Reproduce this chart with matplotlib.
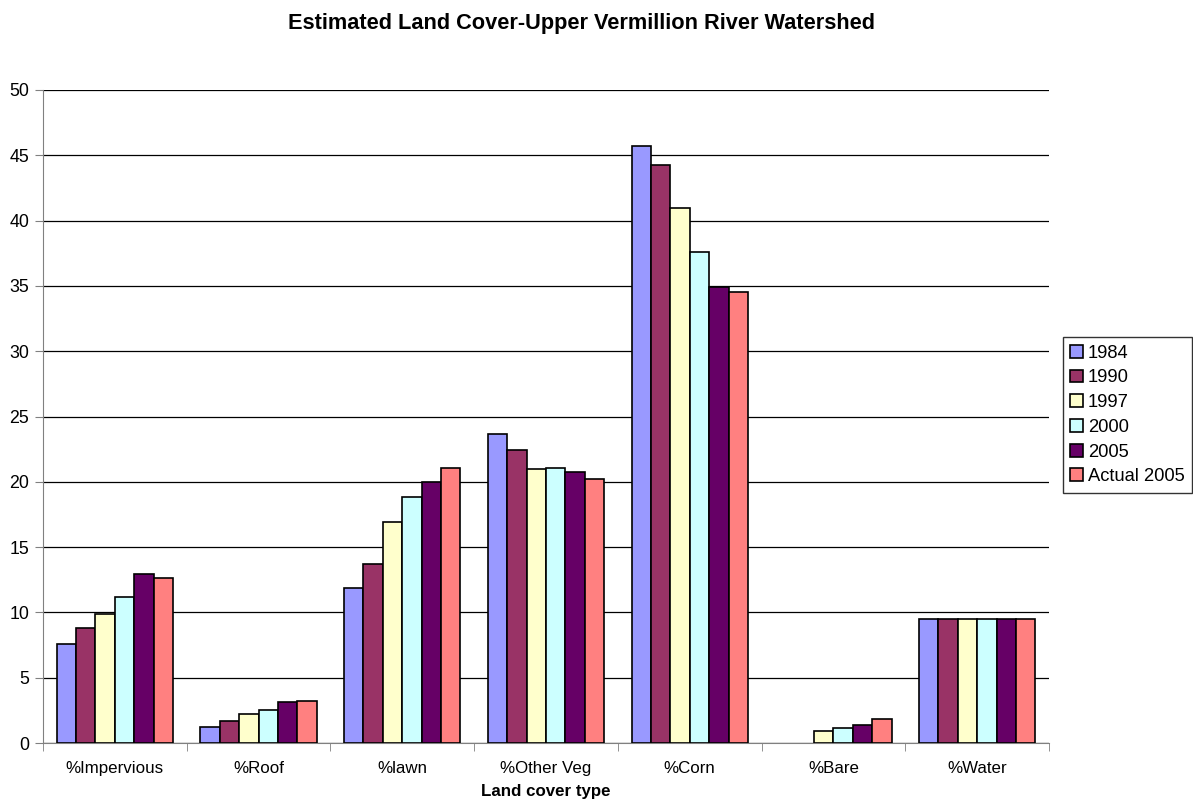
import matplotlib
matplotlib.use("Agg")
import matplotlib.pyplot as plt
import numpy as np

plt.rcParams['font.family'] = ['Liberation Sans', 'DejaVu Sans']

categories = ["%Impervious", "%Roof", "%lawn", "%Other Veg", "%Corn", "%Bare", "%Water"]
series_names = ["1984", "1990", "1997", "2000", "2005", "Actual 2005"]
colors = ["#9999FF", "#993366", "#FFFFCC", "#CCFFFF", "#660066", "#FF8080"]

v1984 = [7.56, 1.20, 11.9, 23.66, 45.74, 0.0, 9.5]
v1990 = [8.83, 1.71, 13.7, 22.43, 44.28, 0.0, 9.5]
v1997 = [9.88, 2.22, 16.9, 20.96, 40.94, 0.94, 9.5]
v2000 = [11.15, 2.50, 18.8, 21.08, 37.60, 1.15, 9.5]
v2005 = [12.94, 3.12, 20.0, 20.72, 34.89, 1.35, 9.5]
vactual = [12.63, 3.22, 21.05, 20.21, 34.51, 1.84, 9.5]
series = [v1984, v1990, v1997, v2000, v2005, vactual]

fig = plt.figure(figsize=(11.93, 8.06), dpi=100)
ax = fig.add_axes([43/1193, 63/806, (1049-43)/1193, (743-90)/806])

n = len(series)
bw = 0.135
x = np.arange(len(categories))
for i, (vals, c, name) in enumerate(zip(series, colors, series_names)):
    vals = np.array(vals)
    xs = x + (i - (n - 1) / 2) * bw
    mask = vals > 0
    ax.bar(xs[mask], vals[mask], width=bw, color=c, edgecolor='black',
           linewidth=1.2, label=name, zorder=3)

ax.set_xlim(-0.5, len(categories) - 0.5)
ax.set_ylim(0, 50)
ax.set_yticks(np.arange(0, 51, 5))
ax.yaxis.grid(True, color='black', linewidth=0.9, zorder=0)
ax.set_axisbelow(True)

ax.set_xticks(x)
ax.set_xticklabels(categories, fontsize=12.2)
ax.tick_params(axis='x', length=0, pad=13)
ax.set_xticks(np.arange(-0.5, len(categories), 1), minor=True)
ax.tick_params(axis='x', which='minor', length=6, color='#808080')
ax.tick_params(axis='y', labelsize=12.8, length=6, color='#808080', pad=4)

for s in ['top', 'right']:
    ax.spines[s].set_visible(False)
ax.spines['left'].set_color('#808080')
ax.spines['bottom'].set_color('#808080')

ax.set_xlabel("Land cover type", fontsize=12.2, fontweight='bold', labelpad=6)
fig.text(581/1193, 1 - 24/806, "Estimated Land Cover-Upper Vermillion River Watershed",
         ha='center', va='center', fontsize=15.7, fontweight='bold')

leg = ax.legend(loc='center left', bbox_to_anchor=(1063/1193, 1 - 415/806),
                bbox_transform=fig.transFigure, fontsize=13.2, frameon=True,
                fancybox=False, edgecolor='black', handlelength=0.7,
                handleheight=0.7, handletextpad=0.25, borderpad=0.4,
                labelspacing=0.42, borderaxespad=0)
leg.get_frame().set_linewidth(1.0)

fig.savefig("out.png", dpi=100)
